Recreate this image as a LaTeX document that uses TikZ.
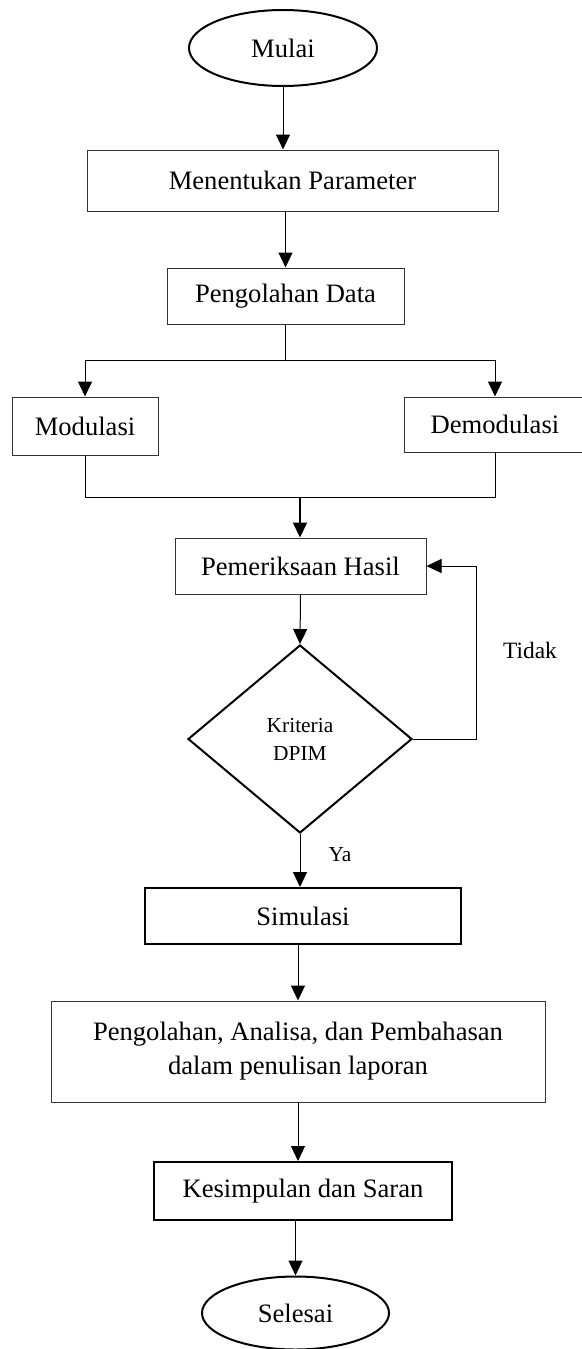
\documentclass[tikz,border=0pt]{standalone}
\usepackage{fontspec}
\setmainfont{Liberation Serif}
\usetikzlibrary{arrows.meta,shapes.geometric,calc}

\begin{document}
\begin{tikzpicture}[
            x=0.5pt, y=-0.5pt,
            terminal/.style={
                    draw=black,
                    ellipse,
                    line width=1pt,
                    inner sep=0pt,
                    font=\fontsize{13.3}{16}\selectfont
                },
            process/.style={
                    draw=black!80,
                    rectangle,
                    line width=0.5pt,
                    inner sep=0pt,
                    align=center,
                    font=\fontsize{13.3}{17}\selectfont
                },
            thickprocess/.style={process, draw=black, line width=1pt},
            decision/.style={
                    draw=black,
                    diamond,
                    line width=1pt,
                    inner sep=0pt,
                    align=center,
                    font=\fontsize{10.7}{14}\selectfont
                },
            arrow/.style={
            -{Triangle[length=7.5pt,width=7pt]},
            line width=0.5pt
            },
            line/.style={line width=0.5pt},
            label/.style={
                    font=\fontsize{11}{13}\selectfont,
                    inner sep=0pt
                }
            ]
            \useasboundingbox (0,0) rectangle (582,1349);

            % Awal dan persiapan
            \node[terminal, minimum width=94pt, minimum height=38pt]
            (mulai) at (283,48) {Mulai};
            \node[process, minimum width=205.5pt, minimum height=30.5pt]
            (param) at (292.5,180.5) {Menentukan Parameter};
            \node[process, minimum width=118.5pt, minimum height=28pt]
            (olah) at (285.5,296) {Pengolahan Data};
            \draw[arrow] (mulai.south) -- (mulai.south |- param.north);
            \draw[arrow] (olah.north |- param.south) -- (olah.north);

            % Cabang modulasi / demodulasi
            \node[process, minimum width=73pt, minimum height=29pt]
            (modul) at (85,426) {Modulasi};
            \node[process, minimum width=91pt, minimum height=27.5pt]
            (demod) at (495,424.5) {Demodulasi};
            \draw[line] (olah.south) -- ++(0,36) coordinate (split);
            \draw[arrow] (split) -| (modul.north);
            \draw[arrow] (split) -| (demod.north);

            % Pemeriksaan hasil
            \node[process, minimum width=125.5pt, minimum height=28pt]
            (periksa) at (300.5,566) {Pemeriksaan Hasil};
            \coordinate (join) at (300,497);
            \draw[line] (modul.south) |- (join);
            \draw[line] (demod.south) |- (join);
            \draw[arrow, line width=1pt] (join) -- (join |- periksa.north);

            % Keputusan
            \node[decision, minimum width=112pt, minimum height=94pt]
            (kriteria) at (300,739) {Kriteria\\DPIM};
            \draw[arrow] (periksa.south) -- (kriteria.north);
            \draw[arrow] (kriteria.east) -- ++(63,0) |- (periksa.east);
            \node[label, font=\fontsize{11.7}{13}\selectfont]
            (tidak) at (530,650) {Tidak};

            % Simulasi dan laporan
            \node[thickprocess, minimum width=158pt, minimum height=28pt]
            (simul) at (303,916) {Simulasi};
            \draw[arrow] (kriteria.south) -- (kriteria.south |- simul.north);
            \node[label, font=\fontsize{10.7}{13}\selectfont]
            (ya) at (340,855) {Ya};
            \node[process, minimum width=247pt, minimum height=50.5pt]
            (bahas) at (298,1051.5)
            {Pengolahan, Analisa, dan Pembahasan\\dalam penulisan laporan};
            \draw[arrow] (bahas.north |- simul.south) -- (bahas.north);

            % Penutup
            \node[thickprocess, minimum width=149pt, minimum height=29pt]
            (simpul) at (303,1191) {Kesimpulan dan Saran};
            \draw[arrow] (bahas.south) -- (bahas.south |- simpul.north);
            \node[terminal, minimum width=93.5pt, minimum height=36.5pt]
            (selesai) at (295.5,1313) {Selesai};
            \draw[arrow] (selesai.north |- simpul.south) -- (selesai.north);

        \end{tikzpicture}
\end{document}
